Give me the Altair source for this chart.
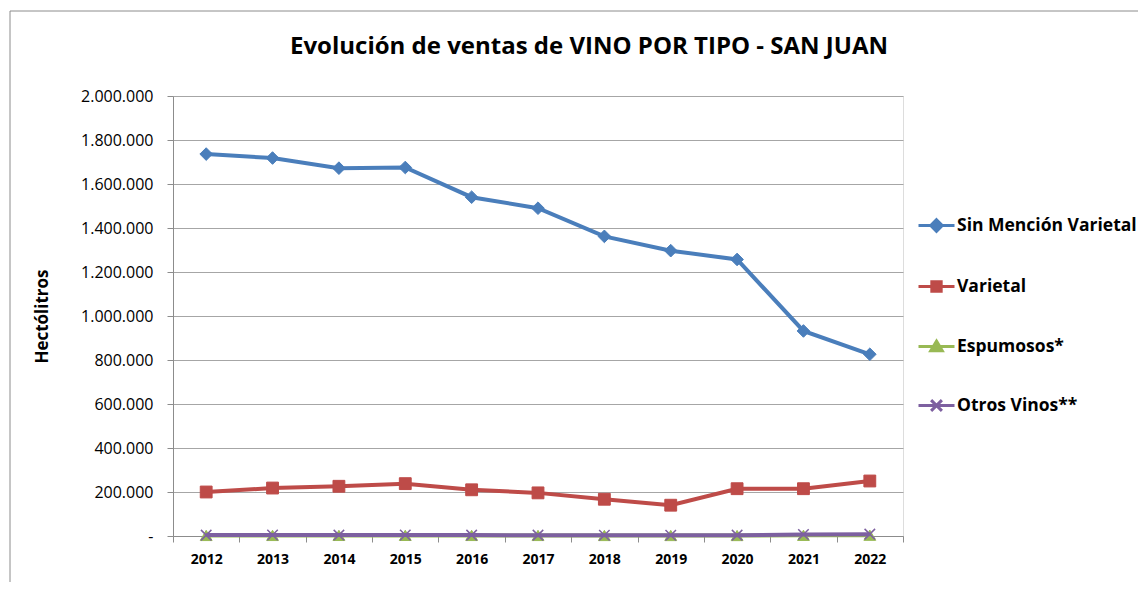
import altair as alt
import pandas as pd

years = ["2012", "2013", "2014", "2015", "2016", "2017", "2018", "2019", "2020", "2021", "2022"]
series_names = ["Sin Mención Varietal", "Varietal", "Espumosos*", "Otros Vinos**"]
sin_mencion = [1736000, 1718000, 1672000, 1675000, 1540000, 1490000, 1362000, 1297000, 1257000, 932000, 826000]
varietal = [200000, 218000, 226000, 238000, 210000, 196000, 167000, 140000, 215000, 215000, 250000]
espumosos = [2500, 2600, 2700, 2800, 2600, 2500, 2400, 2300, 2200, 3000, 3500]
otros = [4000, 4200, 4100, 4300, 4000, 3900, 3800, 3700, 3900, 6500, 8500]
y_ticks = [0, 200000, 400000, 600000, 800000, 1000000, 1200000, 1400000, 1600000, 1800000, 2000000]

colors = ["#4A7EBB", "#BE4B48", "#98B954", "#7D60A0"]
marker_shapes = ["diamond", "square", "triangle-up", "M-1,-1L1,1M-1,1L1,-1"]
marker_sizes = [160, 140, 140, 110]
legend_paths = [
    "M-1,0L1,0M0,-0.32L0.32,0L0,0.32L-0.32,0Z",
    "M-1,0L1,0M-0.26,-0.26L0.26,-0.26L0.26,0.26L-0.26,0.26Z",
    "M-1,0L1,0M0,-0.3L0.32,0.24L-0.32,0.24Z",
    "M-1,0L1,0M-0.3,-0.3L0.3,0.3M-0.3,0.3L0.3,-0.3",
]

values = [sin_mencion, varietal, espumosos, otros]
rows = []
for name, vals in zip(series_names, values):
    for yr, v in zip(years, vals):
        rows.append({"anio": yr, "serie": name, "valor": v})
df = pd.DataFrame(rows)

FONT = "Open Sans"
GRAY = "#8c8c8c"

x_enc = alt.X(
    "anio:O",
    sort=years,
    scale=alt.Scale(type="band", paddingInner=0, paddingOuter=0),
    axis=alt.Axis(
        title=None, labelAngle=0, labelFont=FONT, labelFontSize=14, labelFontWeight="bold",
        labelColor="black", labelPadding=10, tickBand="extent", tickSize=6, tickColor=GRAY,
        domainColor=GRAY, grid=False,
    ),
)
y_enc = alt.Y(
    "valor:Q",
    scale=alt.Scale(domain=[0, 2000000], nice=False),
    axis=alt.Axis(
        values=y_ticks,
        labelExpr="datum.value == 0 ? '-' : replace(format(datum.value, ','), regexp(',', 'g'), '.')",
        labelFont=FONT, labelFontSize=16, labelColor="black", labelPadding=14,
        tickSize=6, tickColor=GRAY, domainColor=GRAY, gridColor="#a6a6a6",
        title="Hectólitros", titleFont=FONT, titleFontSize=17, titleFontWeight="bold",
        titleColor="black", titleX=-131, titleY=220, titleAngle=-90, titleAlign="center",
        titleBaseline="middle",
    ),
)

base = alt.Chart(df)
layers = []
for name, color, shape, size in zip(series_names, colors, marker_shapes, marker_sizes):
    sub = base.transform_filter(alt.datum.serie == name)
    layers.append(sub.mark_line(color=color, strokeWidth=4).encode(x=x_enc, y=y_enc))
    if shape.startswith("M"):
        pt = sub.mark_point(shape=shape, filled=False, stroke=color, strokeWidth=1.5, size=size, opacity=1)
    else:
        pt = sub.mark_point(shape=shape, filled=True, fill=color, stroke=color, strokeWidth=1, size=size, opacity=1)
    layers.append(pt.encode(x=x_enc, y=y_enc))

leg = dict(
    title=None, orient="none", legendX=744, legendY=110, labelFont=FONT, labelFontSize=17.5,
    labelFontWeight="bold", labelColor="black", symbolSize=1296, symbolStrokeWidth=3,
    rowPadding=29, labelOffset=1, labelLimit=300,
)
legend_layer = base.transform_filter("false").mark_point(filled=True, size=1296, strokeWidth=3, opacity=1).encode(
    x=x_enc,
    y=y_enc,
    color=alt.Color("serie:N", scale=alt.Scale(domain=series_names, range=colors), legend=alt.Legend(**leg)),
    stroke=alt.Stroke("serie:N", scale=alt.Scale(domain=series_names, range=colors), legend=alt.Legend(**leg)),
    shape=alt.Shape("serie:N", scale=alt.Scale(domain=series_names, range=legend_paths), legend=alt.Legend(**leg)),
)

border_df = pd.DataFrame({"k": [0]})
border_top = alt.Chart(border_df).mark_rule(color=GRAY, strokeWidth=1).encode(
    x=alt.value(-163), x2=alt.value(1000), y=alt.value(-85)
)
border_left = alt.Chart(border_df).mark_rule(color=GRAY, strokeWidth=1).encode(
    x=alt.value(-163), y=alt.value(-85), y2=alt.value(520)
)

chart = alt.layer(*layers, legend_layer, border_top, border_left).properties(
    width=730,
    height=440,
    autosize=alt.AutoSizeParams(type="none"),
    padding={"left": 165, "top": 88, "right": 235, "bottom": 46},
    title=alt.TitleParams(
        "Evolución de ventas de VINO POR TIPO - SAN JUAN", font=FONT, fontSize=24,
        fontWeight="bold", color="black", anchor="middle", dx=51, offset=0, dy=67,
        frame="group", baseline="alphabetic",
    ),
).configure_view(stroke=None).configure(background="white")

chart.save("out.html", embed_options={"renderer": "svg", "actions": False})
